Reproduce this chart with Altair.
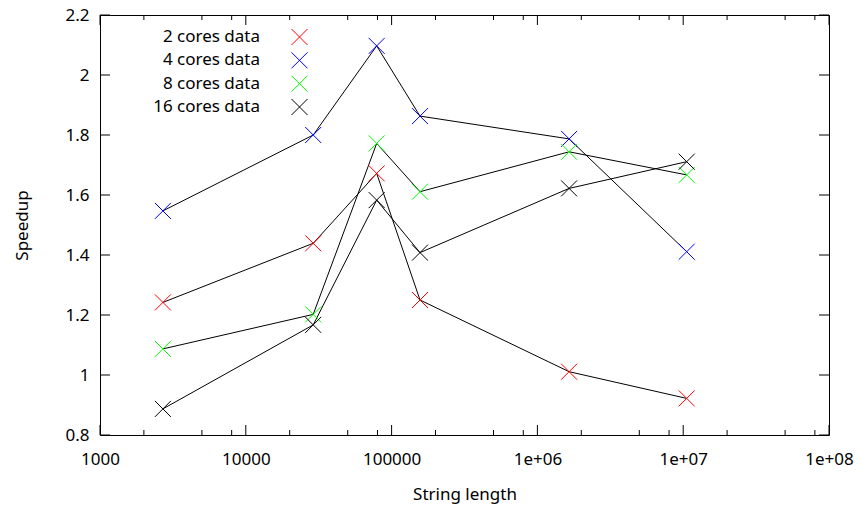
import altair as alt
import pandas as pd

# ---- data ----
string_length = [2700, 29000, 79000, 156600, 1650000, 10570000]
cores_2 = [1.242, 1.439, 1.672, 1.250, 1.011, 0.922]
cores_4 = [1.547, 1.800, 2.097, 1.863, 1.787, 1.411]
cores_8 = [1.087, 1.202, 1.772, 1.611, 1.744, 1.667]
cores_16 = [0.887, 1.167, 1.583, 1.408, 1.622, 1.711]
series_names = ["2 cores data", "4 cores data", "8 cores data", "16 cores data"]
series_colors = ["#ff0000", "#0000ff", "#00ff00", "#000000"]

x_major = [1e3, 1e4, 1e5, 1e6, 1e7, 1e8]
x_minor = [m * 10 ** k for k in range(3, 8) for m in (2, 5, 8)]
y_major = [0.8, 1.0, 1.2, 1.4, 1.6, 1.8, 2.0, 2.2]

rows = []
for name, vals in zip(series_names, [cores_2, cores_4, cores_8, cores_16]):
    for x, y in zip(string_length, vals):
        rows.append({"len": x, "speedup": y, "series": name})
df = pd.DataFrame(rows)
legend_df = pd.DataFrame({"series": series_names})

W, H = 729, 420
FONT = "Noto Sans"
FS = 17
XPATH = "M-1,-1L1,1M1,-1L-1,1"

xscale = alt.Scale(type="log", domain=[1e3, 1e8], nice=False)
yscale = alt.Scale(domain=[0.8, 2.2], nice=False, zero=False)
cscale = alt.Scale(domain=series_names, range=series_colors)
# legend rows placed by a point scale in the top-left of the plot
lscale = alt.Scale(type="point", domain=series_names, range=[22, 92], padding=0)

xaxis = alt.Axis(
    values=x_major, ticks=False, tickSize=0, domain=False, grid=False,
    labelExpr="datum.value < 1e6 ? format(datum.value, 'd') : '1e+0' + round(log(datum.value)/LN10)",
    labelFont=FONT, labelFontSize=FS, labelColor="#000", labelPadding=16,
    labelFlush=False, labelOverlap=False,
    title="String length", titleFont=FONT, titleFontSize=FS, titleFontWeight="normal",
    titleColor="#000", titleY=64, titleBaseline="alphabetic",
)
yaxis = alt.Axis(
    values=y_major, ticks=False, tickSize=0, domain=False, grid=False,
    labelExpr="format(datum.value, '.1~f')",
    labelFont=FONT, labelFontSize=FS, labelColor="#000", labelPadding=11,
    labelFlush=False, labelOverlap=False,
    title="Speedup", titleFont=FONT, titleFontSize=FS, titleFontWeight="normal",
    titleColor="#000", titleX=-73, titleY=H / 2, titleBaseline="alphabetic", titleAngle=270,
)

lines = alt.Chart(df).mark_line(color="black", strokeWidth=1).encode(
    x=alt.X("len:Q", scale=xscale, axis=xaxis),
    y=alt.Y("speedup:Q", scale=yscale, axis=yaxis),
    detail="series:N",
    order="len:Q",
)
points = alt.Chart(df).mark_point(shape=XPATH, size=256, filled=False, strokeWidth=1, opacity=1).encode(
    x=alt.X("len:Q", scale=xscale),
    y=alt.Y("speedup:Q", scale=yscale),
    stroke=alt.Stroke("series:N", scale=cscale, legend=None),
)

xmaj = pd.DataFrame({"v": x_major})
xmin = pd.DataFrame({"v": x_minor})
ymaj = pd.DataFrame({"v": y_major})

def xticks(data, length):
    bottom = alt.Chart(data).mark_rule(color="black", strokeWidth=1).encode(
        x=alt.X("v:Q", scale=xscale), y=alt.value(H), y2=alt.value(H - length))
    top = alt.Chart(data).mark_rule(color="black", strokeWidth=1).encode(
        x=alt.X("v:Q", scale=xscale), y=alt.value(0), y2=alt.value(length))
    return bottom + top

yt_left = alt.Chart(ymaj).mark_rule(color="black", strokeWidth=1).encode(
    y=alt.Y("v:Q", scale=yscale), x=alt.value(0), x2=alt.value(10))
yt_right = alt.Chart(ymaj).mark_rule(color="black", strokeWidth=1).encode(
    y=alt.Y("v:Q", scale=yscale), x=alt.value(W), x2=alt.value(W - 10))

plot = alt.layer(xticks(xmaj, 10), xticks(xmin, 5), yt_left, yt_right, lines, points)

legend_text = alt.Chart(legend_df).mark_text(
    align="right", baseline="middle", font=FONT, fontSize=FS, color="#000"
).encode(
    x=alt.value(160),
    y=alt.Y("series:N", scale=lscale, axis=None),
    text="series:N",
)
legend_sym = alt.Chart(legend_df).mark_point(
    shape=XPATH, size=256, filled=False, strokeWidth=1, opacity=1
).encode(
    x=alt.value(199.5),
    y=alt.Y("series:N", scale=lscale, axis=None),
    stroke=alt.Stroke("series:N", scale=cscale, legend=None),
)
legend = alt.layer(legend_text, legend_sym)

chart = alt.layer(plot, legend).resolve_scale(y="independent").properties(
    width=W, height=H,
    autosize=alt.AutoSizeParams(type="none"),
    padding={"left": 100, "top": 15, "right": 34, "bottom": 74},
    background="white",
).configure_view(
    stroke="black", strokeWidth=1
)

chart.save("out.html", embed_options={"renderer": "svg", "actions": False})
